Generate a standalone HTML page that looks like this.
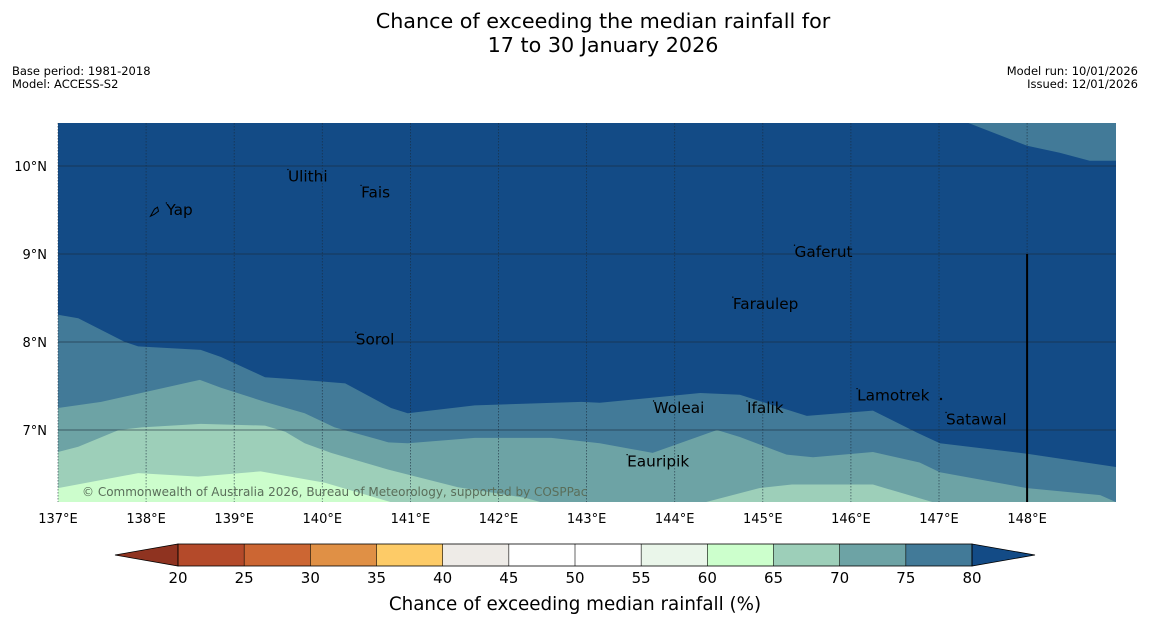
<!DOCTYPE html>
<html><head><meta charset="utf-8"><style>
body{margin:0;background:#fff;}
svg{display:block;font-family:"DejaVu Sans","Liberation Sans",sans-serif;}
</style></head><body>
<svg id="chart" width="1150" height="644" viewBox="0 0 1150 644">
<text x="603" y="28" font-size="20.7" text-anchor="middle">Chance of exceeding the median rainfall for</text>
<text x="603" y="52" font-size="20.7" text-anchor="middle">17 to 30 January 2026</text>
<text x="12" y="75" font-size="11.5">Base period: 1981-2018</text>
<text x="12" y="88" font-size="11.5">Model: ACCESS-S2</text>
<text x="1138" y="75" font-size="11.5" text-anchor="end">Model run: 10/01/2026</text>
<text x="1138" y="88" font-size="11.5" text-anchor="end">Issued: 12/01/2026</text>
<defs><clipPath id="mapclip"><rect x="58" y="123" width="1058" height="379"/></clipPath></defs>
<g id="map" clip-path="url(#mapclip)"></g>
<g id="grid"></g>
<g id="places"></g>
<g id="axes"></g>
<text x="82" y="496" font-size="12" fill="#5a6e5a">© Commonwealth of Australia 2026, Bureau of Meteorology, supported by COSPPac</text>
<g id="cbar"></g>
<text x="575" y="610" font-size="18.3" text-anchor="middle">Chance of exceeding median rainfall (%)</text>
</svg>
<script>
const NS="http://www.w3.org/2000/svg";
// contour boundaries [lon, lat]
const b80=[[137,8.31],[137.23,8.27],[137.76,8.0],[137.91,7.95],[138.62,7.91],[138.85,7.83],[139.35,7.6],[139.64,7.58],[140.26,7.53],[140.78,7.25],[140.97,7.19],[141.73,7.28],[142.94,7.32],[143.15,7.31],[144.29,7.42],[144.74,7.4],[145.5,7.16],[146.25,7.22],[146.75,6.97],[147.01,6.85],[148,6.73],[149.01,6.58]];
const b75=[[137,7.25],[137.49,7.32],[138.61,7.57],[138.85,7.48],[139.35,7.32],[139.8,7.19],[140.14,7.03],[140.75,6.86],[140.97,6.85],[141.73,6.91],[142.6,6.91],[143.15,6.85],[143.75,6.74],[144.48,7.0],[144.74,6.92],[145.27,6.72],[145.57,6.69],[146.25,6.75],[146.78,6.63],[147.01,6.52],[148,6.34],[148.83,6.26],[149.01,6.18]];
const b70a=[[137,6.75],[137.23,6.81],[137.69,7.0],[137.95,7.03],[138.62,7.07],[139.35,7.05],[139.58,6.98],[139.8,6.85],[140.1,6.74],[140.75,6.55],[141.54,6.35],[142.3,6.23],[142.48,6.18]];
const b70b=[[144.35,6.18],[144.96,6.34],[145.33,6.38],[146.25,6.38],[146.93,6.18]];
const b65=[[137,6.34],[137.91,6.51],[138.59,6.47],[139.3,6.53],[140.03,6.4],[140.78,6.18]];
const topPatch=[[147.33,10.49],[148,10.23],[148.37,10.15],[148.71,10.06],[149.01,10.06],[149.01,10.49]];
const lonTicks=[137,138,139,140,141,142,143,144,145,146,147,148];
const latTicks=[7,8,9,10];
const places=[["Ulithi",139.61,9.88],["Fais",140.44,9.7],["Yap",138.23,9.5],["Gaferut",145.36,9.02],["Faraulep",144.66,8.43],["Sorol",140.38,8.03],["Woleai",143.76,7.25],["Ifalik",144.82,7.25],["Lamotrek",146.07,7.39],["Satawal",147.08,7.12],["Eauripik",143.46,6.64]];
const cbLevels=[20,25,30,35,40,45,50,55,60,65,70,75,80];
const cbColors=["#b44a2a","#cc6633","#e09045","#fdcb67","#eeebe7","#ffffff","#ffffff","#eaf6ea","#ccffcc","#9dcfb9","#6da3a5","#427a98"];
const X=lon=>58+(lon-137)*88.1, Y=lat=>166+(10-lat)*88;
const C={dark:"#134b86",c75:"#427a98",c70:"#6da3a5",c65:"#9dcfb9",c60:"#ccfdcc"};
function el(tag,attrs,parent){const e=document.createElementNS(NS,tag);for(const k in attrs)e.setAttribute(k,attrs[k]);parent.appendChild(e);return e;}
const map=document.getElementById('map');
function below(arr,color,name){let d="M"+arr.map(p=>X(p[0])+","+Y(p[1])).join(" L");d+=` L${X(arr[arr.length-1][0])},510 L${X(arr[0][0])},510 Z`;const p=el('path',{d:d,fill:color},map);

}
const bg=el('rect',{x:58,y:123,width:1058,height:379,fill:C.dark},map);


below(b80,C.c75,'band-75-80');
below(b75,C.c70,'band-70-75');
below(b70a,C.c65,'band-65-70-west');
below(b70b,C.c65,'band-65-70-east');
below(b65,C.c60,'band-60-65');
const tp=el('path',{d:"M"+topPatch.map(p=>X(p[0])+","+Y(p[1])).join(" L")+" Z",fill:C.c75},map);


const grid=document.getElementById('grid'),axes=document.getElementById('axes');
lonTicks.forEach(l=>{const g=el('line',{x1:X(l),x2:X(l),y1:123,y2:502,stroke:"#1a2a3a","stroke-width":0.8,"stroke-dasharray":"1.5,1.5",opacity:0.7},grid);


const t=el('text',{x:X(l),y:523,"font-size":13,"text-anchor":"middle"},axes);t.textContent=l+"°E";

});
latTicks.forEach(l=>{const g=el('line',{x1:58,x2:1116,y1:Y(l),y2:Y(l),stroke:"#1a2a3a","stroke-width":1,opacity:0.6},grid);


const t=el('text',{x:47,y:Y(l)+5,"font-size":13,"text-anchor":"end"},axes);t.textContent=l+"°N";

});
const vl=el('line',{x1:X(148),x2:X(148),y1:Y(9),y2:502,stroke:"#000","stroke-width":2},grid);


const pg=document.getElementById('places');
places.forEach(p=>{const t=el('text',{x:X(p[1]),y:Y(p[2])+5,"font-size":15.3,fill:"#000"},pg);t.textContent=p[0];


const d=el('circle',{cx:X(p[1]),cy:Y(p[2])-7,r:0.7,fill:"#000"},pg);

});
const yi=el('path',{d:`M${X(138.05)},${Y(9.43)} l4,-7 l3,-2 l1,4 l-4,3 z`,fill:"none",stroke:"#000","stroke-width":1},pg);


const dot=el('circle',{cx:941,cy:399,r:1.2,fill:"#000"},pg);


// colorbar
const cb=document.getElementById('cbar');const cx0=178,cw=(972-178)/12,cy=544,ch=22;
const lt=el('polygon',{points:`115,555 ${cx0},${cy} ${cx0},${cy+ch}`,fill:"#8f3320",stroke:"#000","stroke-width":0.8},cb);


cbColors.forEach((c,i)=>{const r=el('rect',{x:cx0+i*cw,y:cy,width:cw,height:ch,fill:c},cb);

});
const rt=el('polygon',{points:`972,${cy} 1035,555 972,${cy+ch}`,fill:"#134b86",stroke:"#000","stroke-width":0.8},cb);


cbLevels.forEach((v,i)=>{const x=cx0+i*cw;const l=el('line',{x1:x,x2:x,y1:cy,y2:cy+ch,stroke:"#000","stroke-width":0.6},cb);


const t=el('text',{x:x,y:583,"font-size":15,"text-anchor":"middle"},cb);t.textContent=v;

});
const ob=el('rect',{x:cx0,y:cy,width:972-cx0,height:ch,fill:"none",stroke:"#000","stroke-width":0.8},cb);


</script>
</body></html>
